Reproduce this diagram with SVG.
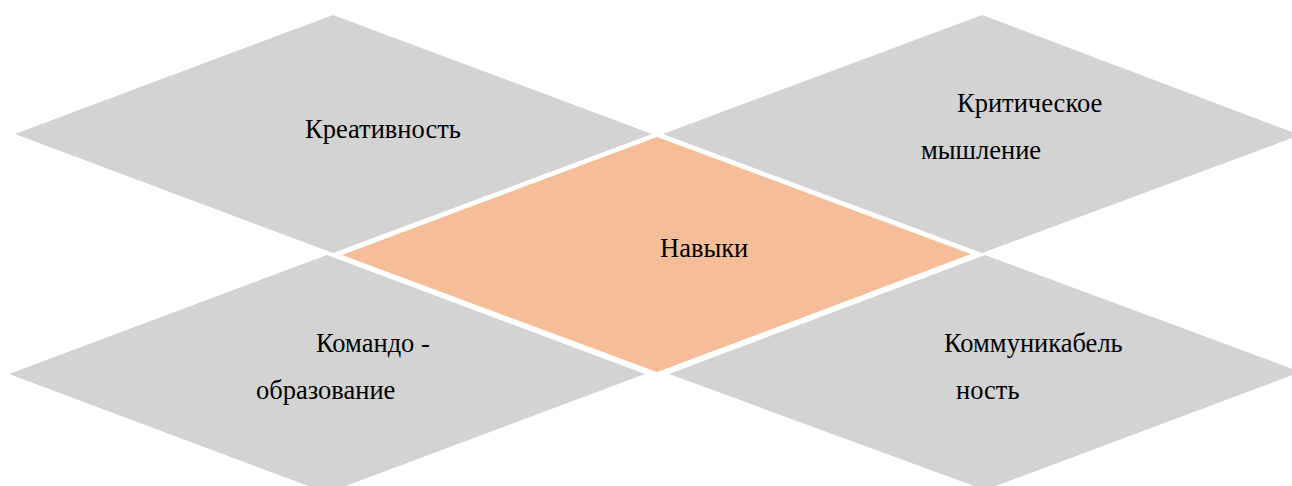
<svg xmlns="http://www.w3.org/2000/svg" width="1292" height="486" viewBox="0 0 1292 486">
<style>
.g{fill:#d3d3d3;stroke:none}
.c{fill:#f5be98;stroke:#ffffff;stroke-width:3.5;stroke-linejoin:miter}
.t{font-family:'Liberation Serif','DejaVu Serif',serif;font-size:26.5px;fill:#000}
</style>
<rect width="1292" height="486" fill="#ffffff"/>
<g id="node-creativity">
<polygon class="g" points="333,15 652,134 333,253 15,134"/>
<text class="t" x="305" y="138">Креативность</text>
</g>
<g id="node-critical">
<polygon class="g" points="982,15 1300,135 982,253 663,134"/>
<text class="t" x="957" y="112">Критическое</text>
<text class="t" x="921" y="159">мышление</text>
</g>
<g id="node-team">
<polygon class="g" points="327,255 645,374 327,493 9,374"/>
<text class="t" x="316" y="352">Командо -</text>
<text class="t" x="256" y="399">образование</text>
</g>
<g id="node-communication">
<polygon class="g" points="985,255 1301,372 985,490 669,374"/>
<text class="t" x="944" y="352">Коммуникабель</text>
<text class="t" x="956" y="399">ность</text>
</g>
<g id="node-skills">
<polygon class="c" points="657,135 976,254 657,374 337,255"/>
<text class="t" x="660" y="257">Навыки</text>
</g>
<g id="connectors"></g>
</svg>
